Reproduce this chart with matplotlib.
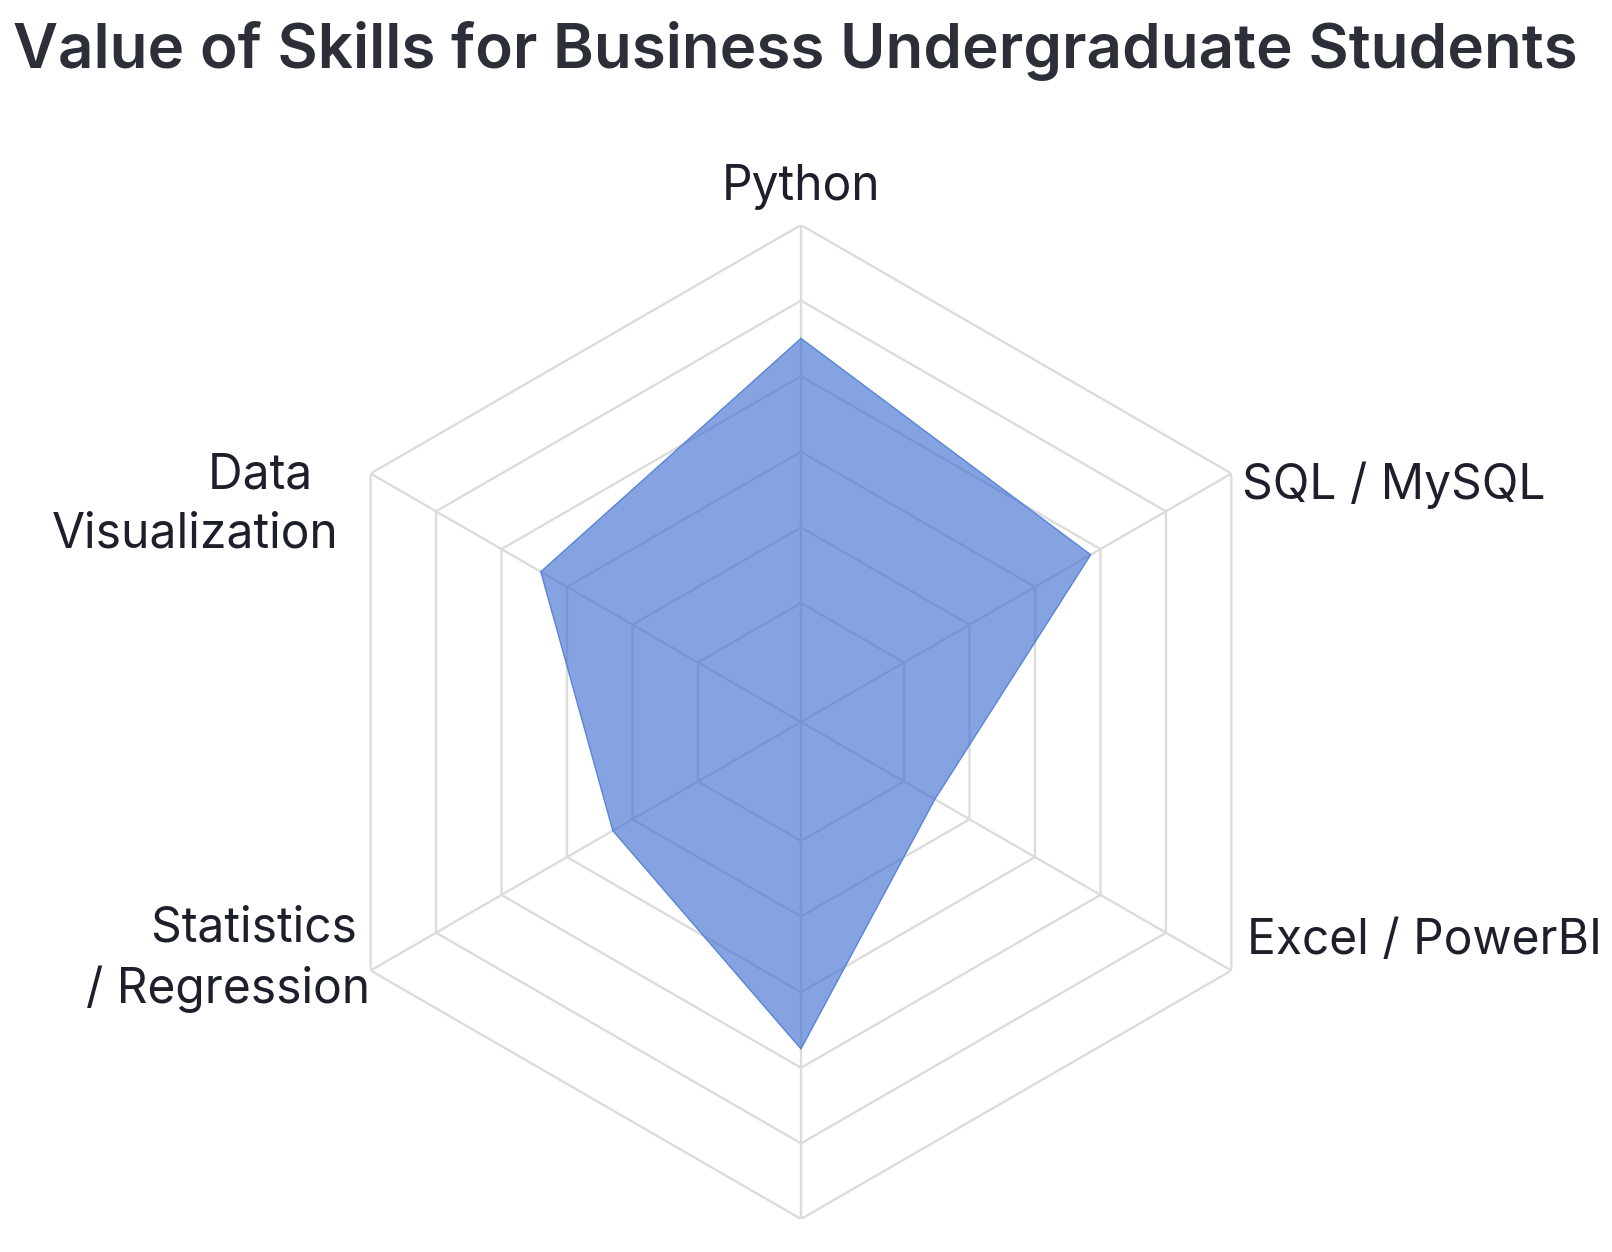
import numpy as np
import matplotlib
matplotlib.use("Agg")
import matplotlib.pyplot as plt

# ---- data ----
categories = ["Python", "SQL / MySQL", "Excel / PowerBI", "", "Statistics\n/ Regression", "Data\nVisualization"]
values = [4.5, 3.85, 1.47, 3.75, 2.3, 3.4]
ring_levels = [1, 2, 3, 4, 5, 6]
title = "Value of Skills for Business Undergraduate Students"

W, H = 1612, 1252
plt.rcParams['font.family'] = ['Inter', 'DejaVu Sans']

fig = plt.figure(figsize=(W / 100, H / 100), dpi=100)
fig.patch.set_facecolor('white')

cx, cy, R = 801, 722, 497
ax = fig.add_axes([(cx - R) / W, (H - cy - R) / H, 2 * R / W, 2 * R / H], projection='polar')
ax.set_theta_offset(np.pi / 2)
ax.set_theta_direction(-1)
rmin = -0.574
ax.set_ylim(rmin, ring_levels[-1])
ax.set_xticks([])
ax.set_yticks([])
ax.grid(False)
ax.spines['polar'].set_visible(False)
ax.set_facecolor('none')

n = len(categories)
angles = np.linspace(0, 2 * np.pi, n, endpoint=False)
closed = np.append(angles, angles[0])

grid_color = '#dcdcdc'
for lvl in ring_levels:
    ax.plot(closed, [lvl] * (n + 1), color=grid_color, lw=1.7, zorder=1, solid_joinstyle='miter')
for a in angles:
    ax.plot([a, a], [rmin, ring_levels[-1]], color=grid_color, lw=1.7, zorder=1)

vals = np.append(values, values[0])
ax.fill(closed, vals, color='#3a6bd0', alpha=0.62, zorder=2, lw=0)
ax.plot(closed, vals, color='#5a84d8', lw=1.0, zorder=3)

# ---- labels ----
lab_kw = dict(fontsize=34.5, color='#1d202b')
fig.text(801 / W, 1 - 200 / H, categories[0], ha='center', va='baseline', **lab_kw)
fig.text(1242 / W, 1 - 499 / H, categories[1], ha='left', va='baseline', **lab_kw)
fig.text(1247 / W, 1 - 954 / H, categories[2], ha='left', va='baseline', **lab_kw)
fig.text(370 / W, 1 - 1003 / H, categories[4].replace("\n", " \n"), ha='right', va='baseline',
         multialignment='right', linespacing=1.37, **lab_kw)
fig.text(339 / W, 1 - 548 / H, categories[5].replace("\n", "  \n"), ha='right', va='baseline',
         multialignment='right', linespacing=1.37, **lab_kw)

fig.text(13 / W, 1 - 68 / H, title, ha='left', va='baseline', fontsize=44.6,
         fontweight='semibold', color='#2c2f38')

fig.savefig('out.png', dpi=100, facecolor='white')
